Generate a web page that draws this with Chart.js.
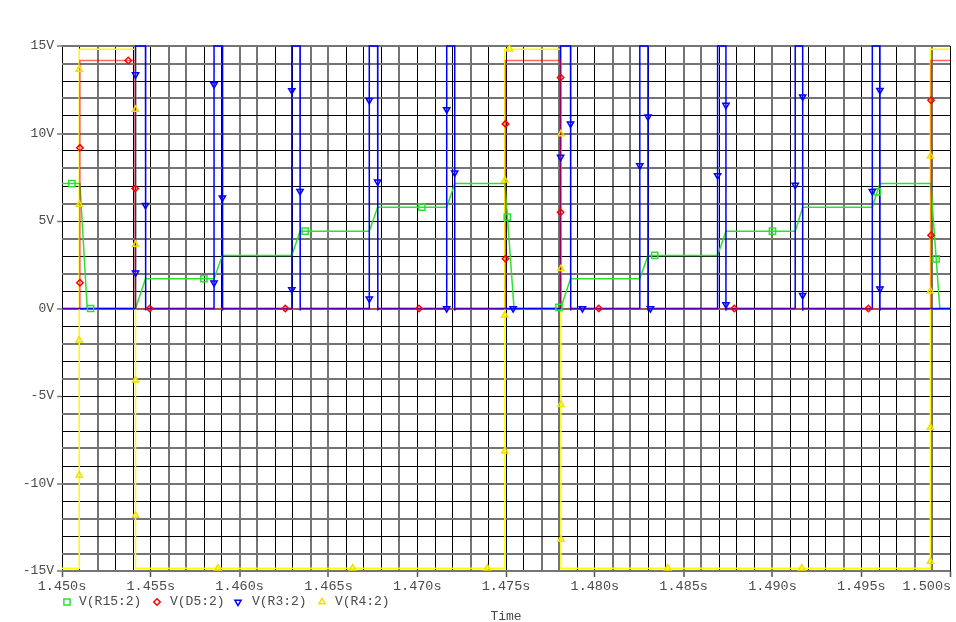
<!DOCTYPE html>
<html>
<head>
<meta charset="utf-8">
<script src="https://cdn.jsdelivr.net/npm/chart.js@4.4.1/dist/chart.umd.min.js"></script>
<style>
html,body{margin:0;padding:0;background:#ffffff;}
canvas{display:block;}
</style>
</head>
<body>
<canvas id="c" width="956" height="622"></canvas>
<script>
// ---------------- DATA ----------------
const seriesNames = ['V(R15:2)', 'V(D5:2)', 'V(R3:2)', 'V(R4:2)'];

const xTickValues = [1.450, 1.455, 1.460, 1.465, 1.470, 1.475, 1.480, 1.485, 1.490, 1.495, 1.500];
const xTickLabels = ['1.450s', '1.455s', '1.460s', '1.465s', '1.470s', '1.475s', '1.480s', '1.485s', '1.490s', '1.495s', '1.500s'];
const yTickValues = [15, 10, 5, 0, -5, -10, -15];
const yTickLabels = ['15V', '10V', '5V', '0V', '-5V', '-10V', '-15V'];

// V(R15:2) - green staircase
const r15Time = [1.45000, 1.45101, 1.45142, 1.45414, 1.45470, 1.45856, 1.45903, 1.46294, 1.46340, 1.46730,
                 1.46777, 1.47166, 1.47211, 1.47494, 1.47545, 1.47807, 1.47863, 1.48253, 1.48299, 1.48691,
                 1.48738, 1.49128, 1.49170, 1.49562, 1.49605, 1.49891, 1.49942, 1.50000];
const r15Volt = [7.14, 7.14, 0, 0, 1.70, 1.70, 3.03, 3.03, 4.42, 4.42,
                 5.79, 5.79, 7.14, 7.14, 0, 0, 1.70, 1.70, 3.03, 3.03,
                 4.42, 4.42, 5.79, 5.79, 7.14, 7.14, 0, 0];

// V(D5:2) - red
const d5Time = [1.45000, 1.45101, 1.45101, 1.45412, 1.45412, 1.47497, 1.47497, 1.47807, 1.47807, 1.49893, 1.49893, 1.50000];
const d5Volt = [0, 0, 14.17, 14.17, 0, 0, 14.17, 14.17, 0, 0, 14.17, 14.17];

// V(R3:2) - blue pulses
const r3Time = [1.45000,
  1.45414, 1.45414, 1.45470, 1.45470, 1.45472,
  1.45856, 1.45856, 1.45903, 1.45903, 1.45905,
  1.46294, 1.46294, 1.46340, 1.46340, 1.46342,
  1.46730, 1.46730, 1.46777, 1.46777, 1.46779,
  1.47166, 1.47166, 1.47211, 1.47211, 1.47213,
  1.47807, 1.47807, 1.47863, 1.47863, 1.47865,
  1.48253, 1.48253, 1.48299, 1.48299, 1.48301,
  1.48691, 1.48691, 1.48738, 1.48738, 1.48740,
  1.49128, 1.49128, 1.49170, 1.49170, 1.49172,
  1.49562, 1.49562, 1.49605, 1.49605, 1.49607,
  1.50000];
const r3Volt = [0,
  0, 15, 15, -0.12, 0,
  0, 15, 15, -0.12, 0,
  0, 15, 15, -0.12, 0,
  0, 15, 15, -0.12, 0,
  0, 15, 15, -0.12, 0,
  0, 15, 15, -0.12, 0,
  0, 15, 15, -0.12, 0,
  0, 15, 15, -0.12, 0,
  0, 15, 15, -0.12, 0,
  0, 15, 15, -0.12, 0,
  0];

// V(R4:2) - yellow square wave
const r4Time = [1.45000, 1.45097, 1.45097, 1.45414, 1.45414, 1.47493, 1.47493, 1.47809, 1.47809, 1.49889, 1.49889, 1.50000];
const r4Volt = [-14.84, -14.84, 14.82, 14.82, -14.84, -14.84, 14.82, 14.82, -14.84, -14.84, 14.82, 14.82];

// trace markers
const r15MarkTime = [1.45056, 1.45161, 1.45799, 1.46369, 1.47026, 1.47507, 1.47798, 1.48337, 1.49000, 1.49590, 1.49921];
const r15MarkVolt = [7.14, 0, 1.70, 4.42, 5.79, 5.22, 0.07, 3.03, 4.42, 6.67, 2.84];

const d5MarkTime = [1.45101, 1.45101, 1.45373, 1.45412, 1.45494, 1.46257, 1.47010, 1.47497, 1.47497, 1.47807, 1.47807, 1.48022, 1.48785, 1.49540, 1.49893, 1.49893];
const d5MarkVolt = [9.18, 1.47, 14.17, 6.86, 0, 0, 0, 10.55, 2.84, 13.2, 5.5, 0, 0, 0, 11.9, 4.19];

const r3MarkTime = [1.45414, 1.45414, 1.45470, 1.45856, 1.45856, 1.45903, 1.46294, 1.46294, 1.46340,
                    1.46730, 1.46730, 1.46777, 1.47166, 1.47166, 1.47211, 1.47540, 1.47807, 1.47863, 1.47930,
                    1.48253, 1.48299, 1.48313, 1.48691, 1.48738, 1.48738, 1.49128, 1.49170, 1.49170,
                    1.49562, 1.49605, 1.49605];
const r3MarkVolt = [13.37, 2.04, 5.9, 12.8, 1.47, 6.33, 12.46, 1.09, 6.7,
                    11.9, 0.55, 7.24, 11.37, 0, 7.75, 0, 8.65, 10.55, 0,
                    8.17, 10.95, 0, 7.6, 11.62, 0.23, 7.05, 12.1, 0.76,
                    6.7, 12.47, 1.12];

const r4MarkTime = [1.45097, 1.45097, 1.45097, 1.45097, 1.45414, 1.45414, 1.45414, 1.45414,
                    1.45878, 1.46637, 1.47395, 1.47493, 1.47493, 1.47493, 1.47520,
                    1.47809, 1.47809, 1.47809, 1.47809, 1.48410, 1.49165,
                    1.49889, 1.49889, 1.49889, 1.49889];
const r4MarkVolt = [13.66, 5.94, -1.81, -9.52, 11.37, 3.66, -4.10, -11.83,
                    -14.84, -14.84, -14.84, -8.15, -0.38, 7.33, 14.82,
                    9.98, 2.27, -5.49, -13.20, -14.84, -14.84,
                    -14.46, -6.8, 0.99, 8.7];

// ---------------- helpers ----------------
function pts(t, v) { return t.map((x, i) => ({ x: x, y: v[i] })); }
const FONT = '"Liberation Mono", "DejaVu Sans Mono", monospace';
const TXT = '#4a4a4a';

function isHalf(ctx) {
  const s = ctx.scale;
  const n = s.ticks.length;
  if (s.axis === 'y' && (ctx.index === 0 || ctx.index === n - 1)) return true;
  const p = s.getPixelForValue(ctx.tick.value);
  const f = p - Math.floor(p);
  return f > 0.3 && f < 0.7;
}
function gridColor(ctx) { return isHalf(ctx) ? '#747474' : '#000000'; }
function gridWidth(ctx) { return isHalf(ctx) ? 2 : 1; }
function xLabel(v) {
  for (let i = 0; i < xTickValues.length; i++) if (Math.abs(v - xTickValues[i]) < 1e-7) return xTickLabels[i];
  return '';
}
function yLabel(v) {
  for (let i = 0; i < yTickValues.length; i++) if (Math.abs(v - yTickValues[i]) < 1e-7) return yTickLabels[i];
  return '';
}

const colGreen = 'rgb(45,225,45)';
const colRed = '#ff0000';
const colBlue = '#0000ff';
const colYellow = '#ffff00';

const lineDefaults = { showLine: true, pointRadius: 0, borderWidth: 1.5, fill: false, tension: 0 };
const markDefaults = { showLine: false, pointBackgroundColor: 'rgba(0,0,0,0)', pointBorderWidth: 1.5, isMarker: true };

const datasets = [
  Object.assign({}, lineDefaults, { label: seriesNames[3], data: pts(r4Time, r4Volt), borderColor: colYellow, order: 6 }),
  Object.assign({}, lineDefaults, { label: seriesNames[0], data: pts(r15Time, r15Volt), borderColor: colGreen, order: 5 }),
  Object.assign({}, lineDefaults, { label: seriesNames[2], data: pts(r3Time, r3Volt), borderColor: colBlue, order: 4 }),
  Object.assign({}, lineDefaults, { label: seriesNames[1], data: pts(d5Time, d5Volt), borderColor: 'rgba(255,0,0,0.6)', order: 3,
    segment: { borderColor: c => (c.p0.parsed.y === 0 && c.p1.parsed.y === 0) ? 'rgba(255,0,0,0.32)' : 'rgba(255,0,0,0.6)' } }),
  Object.assign({}, markDefaults, { label: seriesNames[0], data: pts(r15MarkTime, r15MarkVolt), pointStyle: 'rect', pointRadius: 4.4, pointBorderColor: colGreen, borderColor: colGreen, order: 2 }),
  Object.assign({}, markDefaults, { label: seriesNames[1], data: pts(d5MarkTime, d5MarkVolt), pointStyle: 'rectRot', pointRadius: 3.2, pointBorderColor: colRed, borderColor: colRed, order: 1 }),
  Object.assign({}, markDefaults, { label: seriesNames[2], data: pts(r3MarkTime, r3MarkVolt), pointStyle: 'triangle', pointRotation: 180, pointRadius: 3.6, pointBorderColor: colBlue, borderColor: colBlue, order: 1 }),
  Object.assign({}, markDefaults, { label: seriesNames[3], data: pts(r4MarkTime, r4MarkVolt), pointStyle: 'triangle', pointRadius: 3.6, pointBorderColor: '#f0e000', borderColor: '#f0e000', order: 2 })
];

// right-align the last x label so it stays inside the canvas (as in the reference)
const edgeLabelPlugin = {
  id: 'edgeLabel',
  beforeDraw(chart) {
    const xs = chart.scales.x;
    const items = xs.getLabelItems();
    const last = items[items.length - 1];
    if (last && last.label) {
      last.options.textAlign = 'right';
      last.options.translation[0] = xs.right + 1;
    }
  }
};

// legend between tick labels and axis title
const legendPlugin = {
  id: 'traceLegend',
  afterDraw(chart) {
    const ctx = chart.ctx;
    const y = 602;
    const symX = [67, 157, 238, 322];
    const txtX = [79, 170, 252, 335];
    const marks = chart.data.datasets.filter(d => d.isMarker);
    ctx.save();
    ctx.font = '13px ' + FONT;
    ctx.textBaseline = 'middle';
    ctx.textAlign = 'left';
    marks.forEach((d, i) => {
      ctx.strokeStyle = d.pointBorderColor;
      ctx.fillStyle = 'rgba(0,0,0,0)';
      ctx.lineWidth = 1.5;
      Chart.helpers.drawPoint(ctx, { pointStyle: d.pointStyle, rotation: d.pointRotation || 0, radius: d.pointRadius, borderWidth: 1.5 }, symX[i], y);
      ctx.fillStyle = TXT;
      ctx.fillText(d.label, txtX[i], y);
    });
    ctx.restore();
  }
};

new Chart(document.getElementById('c'), {
  type: 'line',
  data: { datasets: datasets },
  plugins: [edgeLabelPlugin, legendPlugin],
  options: {
    responsive: false,
    animation: false,
    events: [],
    parsing: true,
    layout: { padding: { top: 46, right: 4, bottom: 0, left: 0 } },
    plugins: { legend: { display: false }, tooltip: { enabled: false }, title: { display: false } },
    datasets: { line: { clip: 6 } },
    scales: {
      x: {
        type: 'linear',
        min: 1.45, max: 1.5,
        afterFit: s => { s.height = 51; s.paddingLeft = 0; s.paddingRight = 0; },
        border: { display: false },
        grid: {
          color: gridColor, lineWidth: gridWidth,
          drawTicks: true, tickLength: 6,
          tickColor: c => xLabel(c.tick.value) ? '#555555' : 'rgba(0,0,0,0)',
          tickWidth: 1.5
        },
        ticks: {
          stepSize: 0.001, autoSkip: false, maxRotation: 0, minRotation: 0,
          padding: 1, color: TXT,
          font: { family: FONT, size: 13.5 },
          callback: v => xLabel(v)
        },
        title: {
          display: true, text: 'Time', color: TXT,
          font: { family: FONT, size: 13, lineHeight: 0.85 },
          padding: { top: 0, bottom: 0 }
        }
      },
      y: {
        type: 'linear',
        min: -15, max: 15,
        afterFit: s => { s.width = 62; s.paddingTop = 0; s.paddingBottom = 0; },
        border: { display: false },
        grid: {
          color: gridColor, lineWidth: gridWidth,
          drawTicks: true, tickLength: 5,
          tickColor: c => yLabel(c.tick.value) ? '#777777' : 'rgba(0,0,0,0)',
          tickWidth: 1.5
        },
        ticks: {
          stepSize: 1, autoSkip: false, padding: 3, color: TXT,
          font: { family: FONT, size: 13 },
          callback: v => yLabel(v)
        }
      }
    }
  }
});
</script>
</body>
</html>
